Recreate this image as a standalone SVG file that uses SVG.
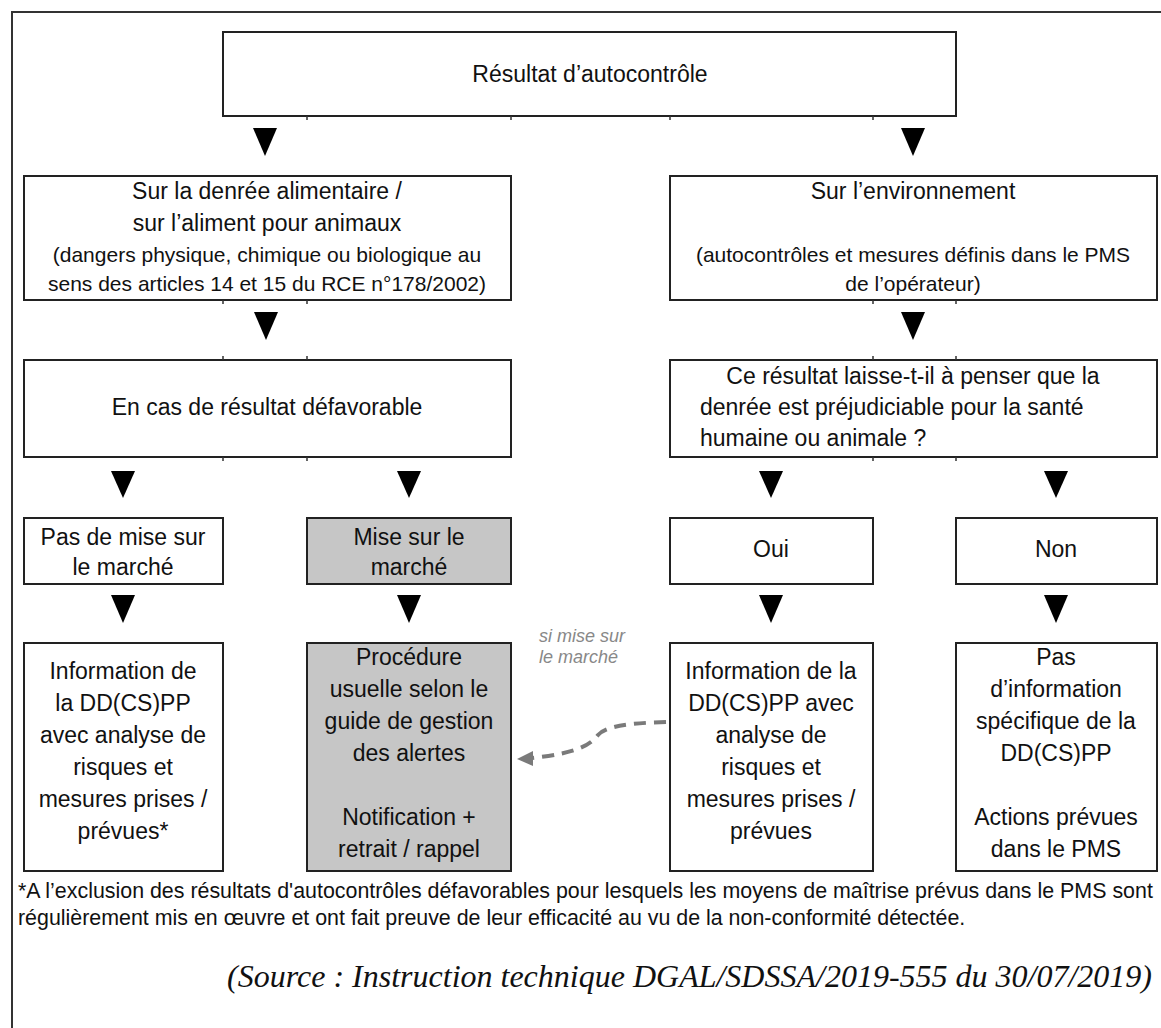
<svg xmlns="http://www.w3.org/2000/svg" width="1161" height="1028" viewBox="0 0 1161 1028">
<style>
.box{fill:#fff;stroke:#222;stroke-width:2}
.grey{fill:#c6c6c6;stroke:#222;stroke-width:2}
.t{font-family:"Liberation Sans",Arial,sans-serif;font-size:23px;fill:#111;text-anchor:middle}
.p{font-size:21px}
.l{text-anchor:start}
.arr{fill:#000}
.tick{stroke:#333;stroke-width:1.5;fill:none}
.note{font-family:"Liberation Sans",Arial,sans-serif;font-size:21.4px;fill:#111}
.src{font-family:"Liberation Serif","Times New Roman",serif;font-style:italic;font-size:32px;fill:#111;text-anchor:end}
.lab{font-family:"Liberation Sans",Arial,sans-serif;font-style:italic;font-size:18px;fill:#888}
</style>
<rect width="1161" height="1028" fill="#fff"/>
<path d="M12,1028 V12 H1161" fill="none" stroke="#333" stroke-width="2"/>

<g id="n-resultat">
<rect class="box" x="223" y="32" width="733" height="84"/>
<text class="t" x="590" y="82">Résultat d’autocontrôle</text>
</g>
<g id="n-denree">
<rect class="box" x="24" y="176" width="487" height="124"/>
<text class="t" x="267" y="199">Sur la denrée alimentaire /</text>
<text class="t" x="267" y="231">sur l’aliment pour animaux</text>
<text class="t p" x="267" y="262">(dangers physique, chimique ou biologique au</text>
<text class="t p" x="267" y="291">sens des articles 14 et 15 du RCE n°178/2002)</text>
</g>
<g id="n-env">
<rect class="box" x="670" y="176" width="487" height="124"/>
<text class="t" x="913" y="199">Sur l’environnement</text>
<text class="t p" x="913" y="262">(autocontrôles et mesures définis dans le PMS</text>
<text class="t p" x="913" y="291">de l’opérateur)</text>
</g>
<g id="n-defav">
<rect class="box" x="24" y="360" width="487" height="97"/>
<text class="t" x="267" y="415">En cas de résultat défavorable</text>
</g>
<g id="n-question">
<rect class="box" x="670" y="360" width="487" height="97"/>
<text class="t" x="913" y="384">Ce résultat laisse-t-il à penser que la</text>
<text class="t l" x="700" y="415">denrée est préjudiciable pour la santé</text>
<text class="t l" x="700" y="446">humaine ou animale ?</text>
</g>
<g id="n-pasmise">
<rect class="box" x="24" y="518" width="199" height="66"/>
<text class="t" x="123" y="545">Pas de mise sur</text>
<text class="t" x="123" y="575">le marché</text>
</g>
<g id="n-mise">
<rect class="grey" x="307" y="518" width="204" height="66"/>
<text class="t" x="409" y="545">Mise sur le</text>
<text class="t" x="409" y="575">marché</text>
</g>
<g id="n-oui">
<rect class="box" x="670" y="518" width="203" height="66"/>
<text class="t" x="771" y="557">Oui</text>
</g>
<g id="n-non">
<rect class="box" x="956" y="518" width="201" height="66"/>
<text class="t" x="1056" y="557">Non</text>
</g>
<g id="n-info1">
<rect class="box" x="24" y="643" width="199" height="228"/>
<text class="t" x="123" y="679">Information de</text>
<text class="t" x="123" y="711">la DD(CS)PP</text>
<text class="t" x="123" y="743">avec analyse de</text>
<text class="t" x="123" y="775">risques et</text>
<text class="t" x="123" y="807">mesures prises /</text>
<text class="t" x="123" y="839">prévues*</text>
</g>
<g id="n-procedure">
<rect class="grey" x="307" y="643" width="204" height="228"/>
<text class="t" x="409" y="665">Procédure</text>
<text class="t" x="409" y="697">usuelle selon le</text>
<text class="t" x="409" y="729">guide de gestion</text>
<text class="t" x="409" y="761">des alertes</text>
<text class="t" x="409" y="825">Notification +</text>
<text class="t" x="409" y="857">retrait / rappel</text>
</g>
<g id="n-info2">
<rect class="box" x="670" y="643" width="203" height="228"/>
<text class="t" x="771" y="679">Information de la</text>
<text class="t" x="771" y="711">DD(CS)PP avec</text>
<text class="t" x="771" y="743">analyse de</text>
<text class="t" x="771" y="775">risques et</text>
<text class="t" x="771" y="807">mesures prises /</text>
<text class="t" x="771" y="839">prévues</text>
</g>
<g id="n-pasinfo">
<rect class="box" x="956" y="643" width="201" height="228"/>
<text class="t" x="1056" y="665">Pas</text>
<text class="t" x="1056" y="697">d’information</text>
<text class="t" x="1056" y="729">spécifique de la</text>
<text class="t" x="1056" y="761">DD(CS)PP</text>
<text class="t" x="1056" y="825">Actions prévues</text>
<text class="t" x="1056" y="857">dans le PMS</text>
</g>

<g id="connectors">
<path class="tick" d="M307,116v4 M511,116v4 M670,116v4 M873,116v4 M223,300v4 M307,300v4 M223,356v4 M307,356v4 M223,457v4 M307,457v4 M873,300v4 M956,300v4 M873,356v4 M956,356v4 M873,457v4 M956,457v4"/>
<polygon class="arr" points="253,128 277,128 265,156"/>
<polygon class="arr" points="901,128 925,128 913,156"/>
<polygon class="arr" points="254,312 278,312 266,340"/>
<polygon class="arr" points="901,312 925,312 913,340"/>
<polygon class="arr" points="111,471 135,471 123,498"/>
<polygon class="arr" points="397,471 421,471 409,498"/>
<polygon class="arr" points="759,471 783,471 771,498"/>
<polygon class="arr" points="1044,471 1068,471 1056,498"/>
<polygon class="arr" points="111,595 135,595 123,623"/>
<polygon class="arr" points="397,595 421,595 409,623"/>
<polygon class="arr" points="759,595 783,595 771,623"/>
<polygon class="arr" points="1044,595 1068,595 1056,623"/>
<path d="M666,722 C630,723 606,726 598,735 C590,745 578,753 532,758" fill="none" stroke="#7a7a7a" stroke-width="4" stroke-dasharray="12,8"/>
<polygon points="517,759 533,751 533,766" fill="#7a7a7a"/>
<text class="lab" x="539" y="642">si mise sur</text>
<text class="lab" x="539" y="663">le marché</text>
</g>

<text class="note" x="18" y="898">*A l’exclusion des résultats d'autocontrôles défavorables pour lesquels les moyens de maîtrise prévus dans le PMS sont</text>
<text class="note" x="18" y="925">régulièrement mis en œuvre et ont fait preuve de leur efficacité au vu de la non-conformité détectée.</text>
<text class="src" x="1152" y="987">(Source : Instruction technique DGAL/SDSSA/2019-555 du 30/07/2019)</text>
</svg>
